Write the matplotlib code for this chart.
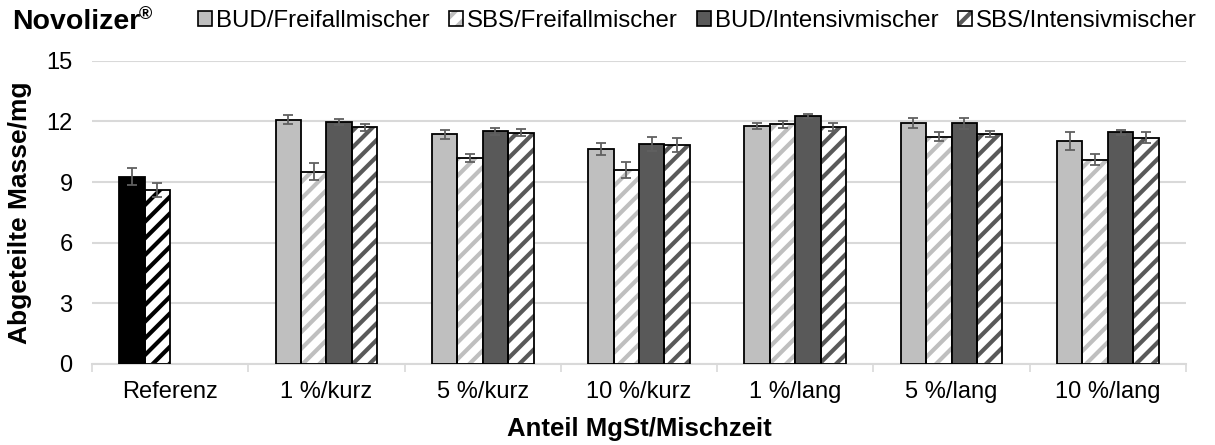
import numpy as np
import matplotlib
matplotlib.use("Agg")
import matplotlib.pyplot as plt
from matplotlib.patches import Patch
from matplotlib.legend_handler import HandlerTuple

plt.rcParams['font.family'] = ['Liberation Sans', 'DejaVu Sans']
plt.rcParams['hatch.linewidth'] = 3.0

categories = ["Referenz", "1 %/kurz", "5 %/kurz", "10 %/kurz", "1 %/lang", "5 %/lang", "10 %/lang"]
series_names = ["BUD/Freifallmischer", "SBS/Freifallmischer", "BUD/Intensivmischer", "SBS/Intensivmischer"]

# reference group (only BUD and SBS, no mixer)
ref_bud, ref_bud_err = 9.27, 0.43
ref_sbs, ref_sbs_err = 8.62, 0.35

# mixed groups: 1 %/kurz ... 10 %/lang
bud_frei = [12.08, 11.36, 10.62, 11.77, 11.91, 11.02]
sbs_frei = [9.52, 10.18, 9.59, 11.86, 11.25, 10.11]
bud_int = [11.99, 11.51, 10.89, 12.25, 11.91, 11.45]
sbs_int = [11.71, 11.43, 10.84, 11.71, 11.38, 11.20]

bud_frei_err = [0.23, 0.21, 0.29, 0.17, 0.24, 0.45]
sbs_frei_err = [0.40, 0.20, 0.40, 0.17, 0.23, 0.27]
bud_int_err = [0.15, 0.17, 0.36, 0.10, 0.28, 0.14]
sbs_int_err = [0.17, 0.17, 0.35, 0.20, 0.13, 0.26]

light = "#bfbfbf"
dark = "#595959"
err_col = "#606060"

fig = plt.figure(figsize=(12.15, 4.45), dpi=100)
ax = fig.add_axes([92/1215, 81/445, (1186-92)/1215, (364-60.7)/445])

w = 0.1625
offs = np.array([-1.5, -0.5, 0.5, 1.5]) * w
x = np.arange(1, len(categories))


def draw(xpos, vals, errs, face, hatch=None, hcol=None):
    if hatch:
        ax.bar(xpos, vals, w, color="white", edgecolor=hcol, hatch=hatch, linewidth=0, zorder=2)
        ax.bar(xpos, vals, w, fill=False, edgecolor="black", linewidth=1.3, zorder=3)
    else:
        ax.bar(xpos, vals, w, color=face, edgecolor="black", linewidth=1.3, zorder=3)
    ax.errorbar(xpos, vals, yerr=errs, fmt="none", ecolor=err_col, elinewidth=1.3,
                capsize=3.8, capthick=1.3, zorder=4)


draw([offs[0]], [ref_bud], [ref_bud_err], "black")
draw([offs[1]], [ref_sbs], [ref_sbs_err], None, "//", "black")
draw(x + offs[0], bud_frei, bud_frei_err, light)
draw(x + offs[1], sbs_frei, sbs_frei_err, None, "//", light)
draw(x + offs[2], bud_int, bud_int_err, dark)
draw(x + offs[3], sbs_int, sbs_int_err, None, "//", dark)

ax.set_ylim(0, 15)
ax.set_xlim(-0.5, len(categories) - 0.5)
ax.set_yticks(np.arange(0, 16, 3))
ax.set_xticks(np.arange(len(categories)))
ax.set_xticklabels(categories)
ax.set_xticks(np.arange(-0.5, len(categories)), minor=True)
ax.tick_params(axis="x", which="major", length=0, pad=12, labelsize=17)
ax.tick_params(axis="x", which="minor", length=6, color="#d9d9d9", width=1.2)
ax.tick_params(axis="y", length=0, pad=14, labelsize=17)
ax.grid(axis="y", color="#d9d9d9", linewidth=1.5, zorder=0)
ax.set_axisbelow(True)
for s in ["top", "right", "left"]:
    ax.spines[s].set_visible(False)
ax.spines["bottom"].set_color("#d9d9d9")
ax.spines["bottom"].set_linewidth(1.5)

ax.set_ylabel("Abgeteilte Masse/mg", fontsize=19, fontweight="bold", labelpad=10)
ax.set_xlabel("Anteil MgSt/Mischzeit", fontsize=18.5, fontweight="bold", labelpad=10)

fig.text(12/1215, 0.95, "Novolizer", fontsize=20.5, fontweight="bold", va="center", ha="left")
fig.text(139/1215, 0.968, "®", fontsize=13, fontweight="bold", va="center", ha="left")

handles = [
    Patch(facecolor=light, edgecolor="black", linewidth=1.2),
    (Patch(facecolor="white", edgecolor=light, hatch="//", linewidth=0),
     Patch(fill=False, edgecolor="black", linewidth=1.2)),
    Patch(facecolor=dark, edgecolor="black", linewidth=1.2),
    (Patch(facecolor="white", edgecolor=dark, hatch="//", linewidth=0),
     Patch(fill=False, edgecolor="black", linewidth=1.2)),
]
fig.legend(handles, series_names, loc="center left", bbox_to_anchor=(198/1215, 0.953),
           ncol=4, frameon=False, fontsize=17.3, handlelength=0.6, handleheight=0.6,
           handletextpad=0.15, columnspacing=0.8, borderaxespad=0, borderpad=0,
           handler_map={tuple: HandlerTuple(ndivide=1)})

fig.savefig("out.png", dpi=100)
